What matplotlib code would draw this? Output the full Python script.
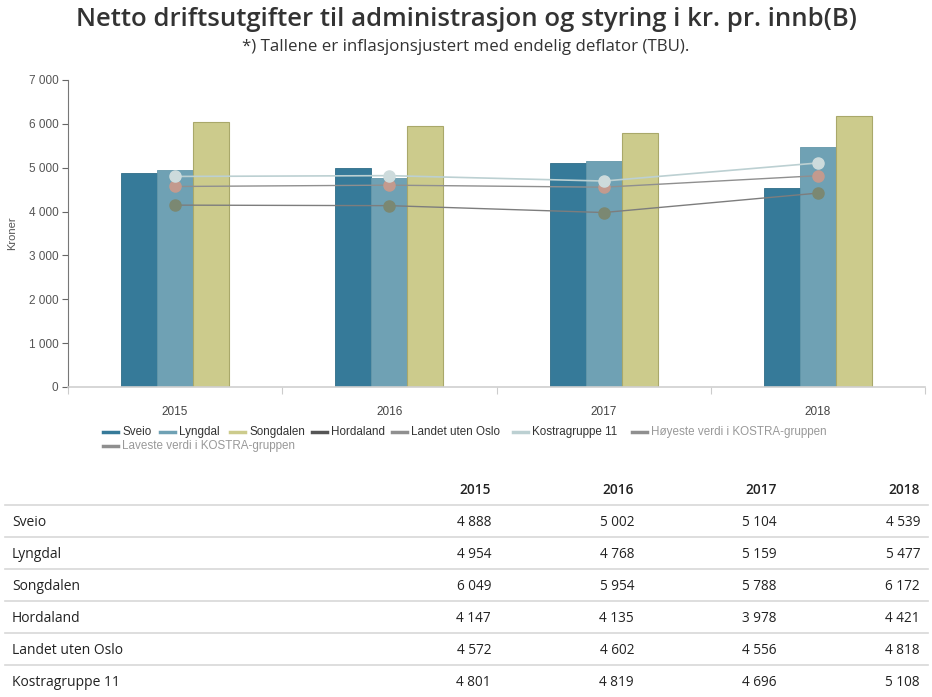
import numpy as np
import matplotlib
matplotlib.use("Agg")
import matplotlib.pyplot as plt
from matplotlib.lines import Line2D

# data
years = ["2015", "2016", "2017", "2018"]
sveio = [4888, 5002, 5104, 4539]
lyngdal = [4954, 4768, 5159, 5477]
songdalen = [6049, 5954, 5788, 6172]
hordaland = [4147, 4135, 3978, 4421]
landet = [4572, 4602, 4556, 4818]
kostra = [4801, 4819, 4696, 5108]
row_names = ["Sveio", "Lyngdal", "Songdalen", "Hordaland", "Landet uten Oslo", "Kostragruppe 11"]
legend_names = ["Sveio", "Lyngdal", "Songdalen", "Hordaland", "Landet uten Oslo",
                "Kostragruppe 11", "Høyeste verdi i KOSTRA-gruppen", "Laveste verdi i KOSTRA-gruppen"]

W, H = 932, 697
fig = plt.figure(figsize=(W / 100, H / 100), dpi=100)

def px(x, y):
    return x / W, 1 - y / H

# chart area
ax_l, ax_r, ax_t, ax_b = 68, 925, 80, 387
ax = fig.add_axes([ax_l / W, 1 - ax_b / H, (ax_r - ax_l) / W, (ax_b - ax_t) / H])

x = np.arange(len(years))
bw = 0.168
ax.bar(x - bw, sveio, bw, color="#367a99", edgecolor="#2f6c88", linewidth=0.6, zorder=2)
ax.bar(x, lyngdal, bw, color="#6fa1b4", edgecolor="#6497aa", linewidth=0.6, zorder=2)
ax.bar(x + bw, songdalen, bw, color="#cccb8c", edgecolor="#a9a86a", linewidth=0.8, zorder=2)

ax.plot(x, kostra, color="#bcd0d2", lw=1.2, marker="o", ms=8, mfc="#cddbdc", mec="#cddbdc", zorder=4)
ax.plot(x, landet, color="#8f8f8f", lw=1.0, marker="o", ms=8, mfc="#c39a8e", mec="#c39a8e", zorder=3)
ax.plot(x, hordaland, color="#7d7d7d", lw=1.0, marker="o", ms=8, mfc="#7b8872", mec="#7b8872", zorder=3)

ax.set_xlim(-0.5, len(years) - 0.5)
ax.set_ylim(0, 7000)
ax.set_yticks(range(0, 7001, 1000))
ax.set_yticklabels([f"{v:,}".replace(",", " ") for v in range(0, 7001, 1000)])
ax.set_xticks(x)
ax.set_xticklabels(years)
ax.set_xticks(np.arange(-0.5, len(years)), minor=True)
ax.tick_params(axis="x", which="major", length=0, pad=14, labelsize=8.5, labelcolor="#444444")
ax.tick_params(axis="x", which="minor", length=5, color="#cccccc", width=0.8)
ax.tick_params(axis="y", length=4, color="#666666", width=0.8, pad=3, labelsize=8.5, labelcolor="#555555")
for lab in ax.get_xticklabels() + ax.get_yticklabels():
    lab.set_family("Liberation Sans")
for s in ["top", "right"]:
    ax.spines[s].set_visible(False)
ax.spines["left"].set_color("#777777")
ax.spines["left"].set_linewidth(0.8)
ax.spines["bottom"].set_color("#d0d0d0")
ax.spines["bottom"].set_linewidth(1.2)
ax.set_ylabel("Kroner", family="Liberation Sans", fontsize=8, color="#555555", labelpad=8)

# titles
fig.text(*px(466, 19), "Netto driftsutgifter til administrasjon og styring i kr. pr. innb(B)",
         ha="center", va="center", family="Open Sans", fontsize=18.5, fontweight="semibold", color="#333333")
fig.text(*px(466, 47), "*) Tallene er inflasjonsjustert med endelig deflator (TBU).",
         ha="center", va="center", family="Open Sans", fontsize=12.2, color="#333333")

# legend
leg_colors = ["#367a99", "#6fa1b4", "#cccb8c", "#555555", "#8f8f8f", "#bcd0d2", "#8f8f8f", "#8f8f8f"]
leg_x = [103, 160, 230, 312, 392, 513, 632, 103]
leg_y = [432, 432, 432, 432, 432, 432, 432, 446]
for name, c, lx, ly in zip(legend_names, leg_colors, leg_x, leg_y):
    fig.add_artist(Line2D([lx / W, (lx + 15) / W], [1 - ly / H, 1 - ly / H], color=c, lw=2.5))
    tc = "#999999" if "KOSTRA-gruppen" in name else "#333333"
    fig.text((lx + 19) / W, 1 - ly / H, name, ha="left", va="center",
             family="Liberation Sans", fontsize=8.4, color=tc)

# table
col_x = [491, 634, 777, 920]
for cx, yr in zip(col_x, years):
    fig.text(*px(cx, 490), yr, ha="right", va="center", family="Open Sans",
             fontsize=9.8, fontweight="semibold", color="#222222")
rows = [sveio, lyngdal, songdalen, hordaland, landet, kostra]
line_y = [505, 537, 569, 601, 633, 665]
for i, (name, vals) in enumerate(zip(row_names, rows)):
    yl = line_y[i]
    fig.add_artist(Line2D([5 / W, 928 / W], [1 - yl / H, 1 - yl / H], color="#d8d8d8", lw=1.2))
    ry = yl + 17
    fig.text(*px(12, ry), name, ha="left", va="center", family="Open Sans", fontsize=10, color="#222222")
    for cx, v in zip(col_x, vals):
        fig.text(*px(cx, ry), f"{v:,}".replace(",", " "), ha="right", va="center",
                 family="Open Sans", fontsize=9.8, color="#222222")

fig.savefig("out.png", dpi=100)
